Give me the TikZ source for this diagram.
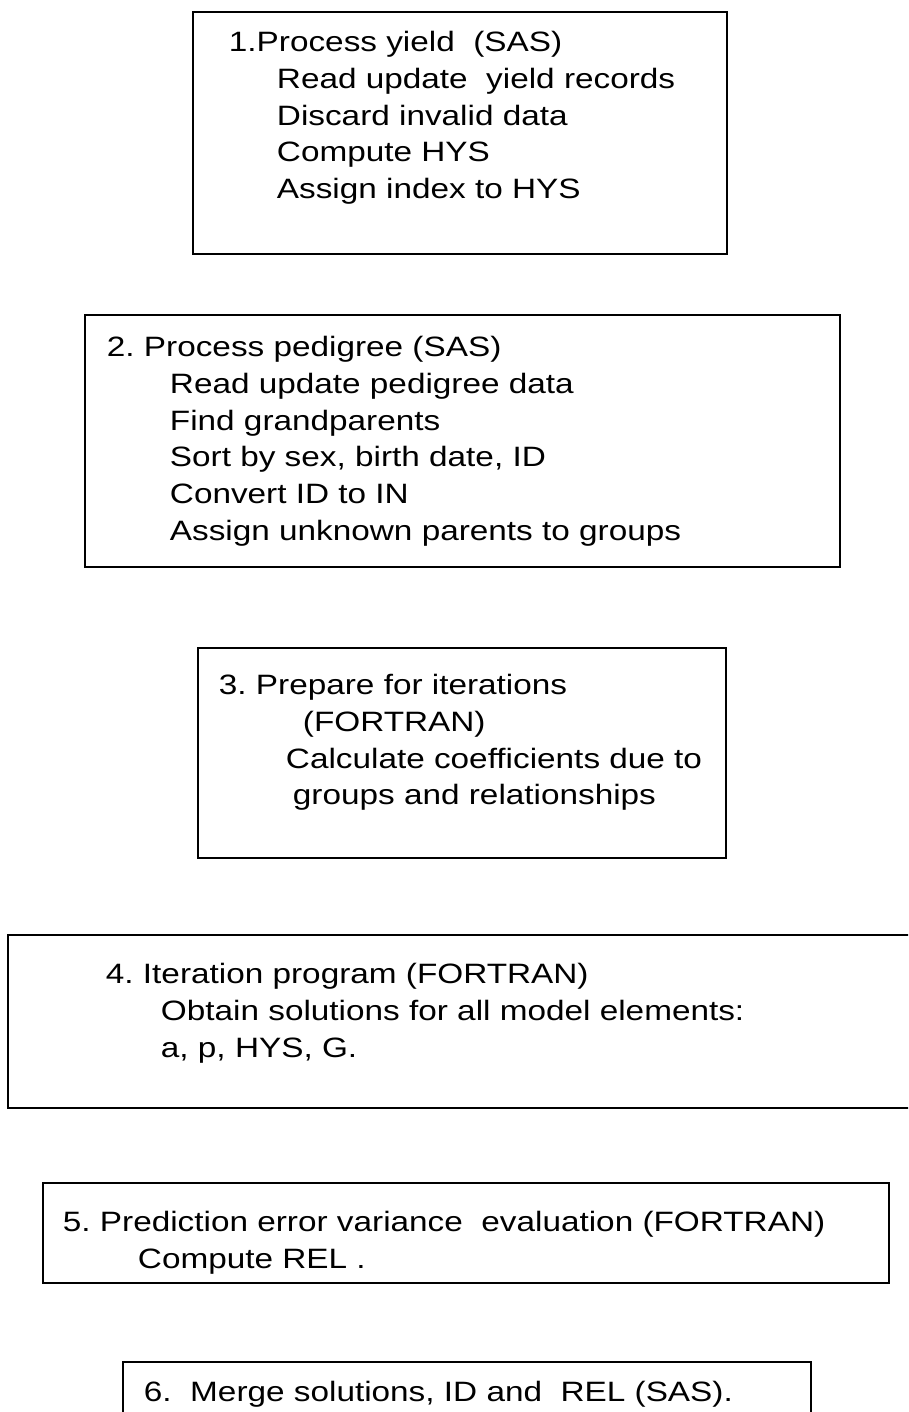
\documentclass[tikz,border=0pt]{standalone}
\usepackage{fontspec}
\usetikzlibrary{positioning}
\newfontfamily\boxfont[FakeStretch=1.19]{Liberation Sans}
\frenchspacing

\begin{document}
\begin{tikzpicture}[x=1pt, y=-1pt,
  stepbox/.style={draw, rectangle, line width=2.5pt, inner sep=0pt},
  steptext/.style={anchor=base west, align=left, inner sep=0pt,
    font=\boxfont\fontsize{28}{36.7}\selectfont}]
\clip (0,0) rectangle (908,1412);
\fill[white] (0,0) rectangle (908,1412);

\node[stepbox, minimum width=534pt, minimum height=242pt] (yield) at (460,133) {};
\node[stepbox, minimum width=755pt, minimum height=252pt] (pedigree) at (462.5,441) {};
\node[stepbox, minimum width=528pt, minimum height=210pt] (prepare) at (462,753) {};
\node[stepbox, minimum width=932pt, minimum height=173pt] (iterate) at (474,1021.5) {};
\node[stepbox, minimum width=846pt, minimum height=100pt] (pev) at (466,1233) {};
\node[stepbox, minimum width=688pt, minimum height=88pt] (merge) at (467,1406) {};

% the base of a text node is its last line
\node[steptext] (yieldtxt) at ([shift={(37,187.8)}]yield.north west) {1.Process yield\ \ (SAS)\\
  \hspace*{48pt}Read update\ \ yield records\\
  \hspace*{48pt}Discard invalid data\\
  \hspace*{48pt}Compute HYS\\
  \hspace*{48pt}Assign index to HYS};
\node[steptext] (pedigreetxt) at ([shift={(23,226.5)}]pedigree.north west) {2. Process pedigree (SAS)\\
  \hspace*{63pt}Read update pedigree data\\
  \hspace*{63pt}Find grandparents\\
  \hspace*{63pt}Sort by sex, birth date, ID\\
  \hspace*{63pt}Convert ID to IN\\
  \hspace*{63pt}Assign unknown parents to groups};
\node[steptext] (preparetxt) at ([shift={(22,158)}]prepare.north west) {3. Prepare for iterations\\
  \hspace*{84pt}(FORTRAN)\\
  \hspace*{67pt}Calculate coefficients due to\\
  \hspace*{74pt}groups and relationships};
\node[steptext] (iteratetxt) at ([shift={(99,123.4)}]iterate.north west) {4. Iteration program (FORTRAN)\\
  \hspace*{55pt}Obtain solutions for all model elements:\\
  \hspace*{55pt}a, p, HYS, G.};
\node[steptext] (pevtxt) at ([shift={(21,86.7)}]pev.north west) {5. Prediction error variance\ \ evaluation (FORTRAN)\\
  \hspace*{75pt}Compute REL .};
\node[steptext] (mergetxt) at ([shift={(22,41)}]merge.north west) {6.\ \ Merge solutions, ID and\ \ REL (SAS).};
\end{tikzpicture}
\end{document}
